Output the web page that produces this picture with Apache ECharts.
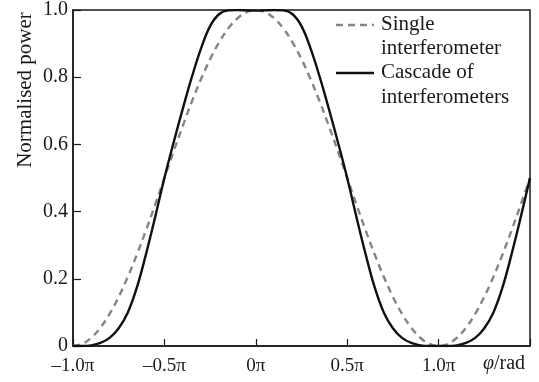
<!DOCTYPE html>
<html>
<head>
<meta charset="utf-8">
<script src="https://cdn.jsdelivr.net/npm/echarts@6/dist/echarts.min.js"></script>
<style>html,body{margin:0;padding:0;background:#fff}#c{width:539px;height:382px}</style>
</head>
<body>
<div id="c"></div>
<script>
// phase in units of pi
var phi = [-1.00,-0.95,-0.90,-0.85,-0.80,-0.75,-0.70,-0.65,-0.60,-0.55,-0.50,-0.45,-0.40,-0.35,-0.30,-0.25,-0.20,-0.15,-0.10,-0.05,
  0.00,0.05,0.10,0.15,0.20,0.25,0.30,0.35,0.40,0.45,0.50,0.55,0.60,0.65,0.70,0.75,0.80,0.85,0.90,0.95,
  1.00,1.05,1.10,1.15,1.20,1.25,1.30,1.35,1.40,1.45,1.50];
var single = [0,0.0062,0.0245,0.0545,0.0955,0.1464,0.2061,0.2730,0.3455,0.4218,0.5,0.5782,0.6545,0.7270,0.7939,0.8536,0.9045,0.9455,0.9755,0.9938,
  1,0.9938,0.9755,0.9455,0.9045,0.8536,0.7939,0.7270,0.6545,0.5782,0.5,0.4218,0.3455,0.2730,0.2061,0.1464,0.0955,0.0545,0.0245,0.0062,
  0,0.0062,0.0245,0.0545,0.0955,0.1464,0.2061,0.2730,0.3455,0.4218,0.5];
var cascade = [0,0.000,0.002,0.009,0.024,0.053,0.100,0.175,0.275,0.385,0.500,0.605,0.705,0.800,0.885,0.952,0.988,0.999,1.000,0.999,
  0.998,0.999,1.000,0.999,0.988,0.952,0.885,0.800,0.705,0.605,0.500,0.385,0.275,0.175,0.100,0.053,0.024,0.009,0.002,0.000,
  0,0.000,0.002,0.009,0.024,0.053,0.100,0.175,0.275,0.385,0.500];
var xTickLabels = {'-1': '\u20131.0\u03c0', '-0.5': '\u20130.5\u03c0', '0': '0\u03c0', '0.5': '0.5\u03c0', '1': '1.0\u03c0', '1.5': ''};
var yTickLabels = {'0': '0', '0.2': '0.2', '0.4': '0.4', '0.6': '0.6', '0.8': '0.8', '1': '1.0'};
var seriesNames = ['Single interferometer', 'Cascade of interferometers'];

function pairs(xs, ys) { return xs.map(function (x, i) { return [x, ys[i]]; }); }

var FONT = '"Liberation Serif", "DejaVu Serif", serif';
var ink = '#1a1a1a';
var chart = echarts.init(document.getElementById('c'), null, {renderer: 'canvas'});
chart.setOption({
  animation: false,
  backgroundColor: '#fff',
  grid: {left: 73, right: 9, top: 9, bottom: 36, show: true, borderColor: ink, borderWidth: 1.5},
  xAxis: {
    type: 'value', min: -1, max: 1.5, interval: 0.5,
    axisLine: {show: true, onZero: false, lineStyle: {color: ink, width: 1.5}},
    axisTick: {show: true, inside: true, length: 7, lineStyle: {color: ink, width: 1.2}},
    splitLine: {show: false},
    axisLabel: {margin: 11, color: ink, fontFamily: FONT, fontSize: 19,
      formatter: function (v) { return xTickLabels[String(+v.toFixed(2))]; }}
  },
  yAxis: {
    type: 'value', min: 0, max: 1, interval: 0.2,
    axisLine: {show: true, onZero: false, lineStyle: {color: ink, width: 1.5}},
    axisTick: {show: true, inside: true, length: 8, lineStyle: {color: ink, width: 1.2}},
    splitLine: {show: false},
    axisLabel: {margin: 5, color: ink, fontFamily: FONT, fontSize: 20,
      formatter: function (v) { return yTickLabels[String(+v.toFixed(2))]; }}
  },
  series: [
    {name: seriesNames[0], type: 'line', data: pairs(phi, single), smooth: 0.4, showSymbol: false,
      lineStyle: {color: '#858585', width: 2.4, type: [7, 5]}, z: 2},
    {name: seriesNames[1], type: 'line', data: pairs(phi, cascade), smooth: 0.4, showSymbol: false,
      lineStyle: {color: '#111', width: 2.4}, z: 3}
  ],
  graphic: [
    {type: 'text', x: 25, y: 90, rotation: Math.PI / 2,
      style: {text: 'Normalised power', fill: ink, font: '21px ' + FONT, textAlign: 'center', textVerticalAlign: 'middle'}},
    {type: 'text', x: 504, y: 364,
      style: {text: '{i|\u03c6}/rad', fill: ink, font: '20px ' + FONT, textAlign: 'center', textVerticalAlign: 'middle',
        rich: {i: {fontStyle: 'italic', fontFamily: FONT, fontSize: 20, fill: ink}}}},
    {type: 'line', shape: {x1: 336, y1: 25, x2: 374, y2: 25}, style: {stroke: '#858585', lineWidth: 2.4, lineDash: [7, 5]}},
    {type: 'text', x: 381, y: 24, style: {text: 'Single', fill: ink, font: '21px ' + FONT, textVerticalAlign: 'middle'}},
    {type: 'text', x: 381, y: 48, style: {text: 'interferometer', fill: ink, font: '21px ' + FONT, textVerticalAlign: 'middle'}},
    {type: 'line', shape: {x1: 336, y1: 73, x2: 374, y2: 73}, style: {stroke: '#111', lineWidth: 2.4}},
    {type: 'text', x: 381, y: 72, style: {text: 'Cascade of', fill: ink, font: '21px ' + FONT, textVerticalAlign: 'middle'}},
    {type: 'text', x: 381, y: 97, style: {text: 'interferometers', fill: ink, font: '21px ' + FONT, textVerticalAlign: 'middle'}}
  ]
});
</script>
</body>
</html>
